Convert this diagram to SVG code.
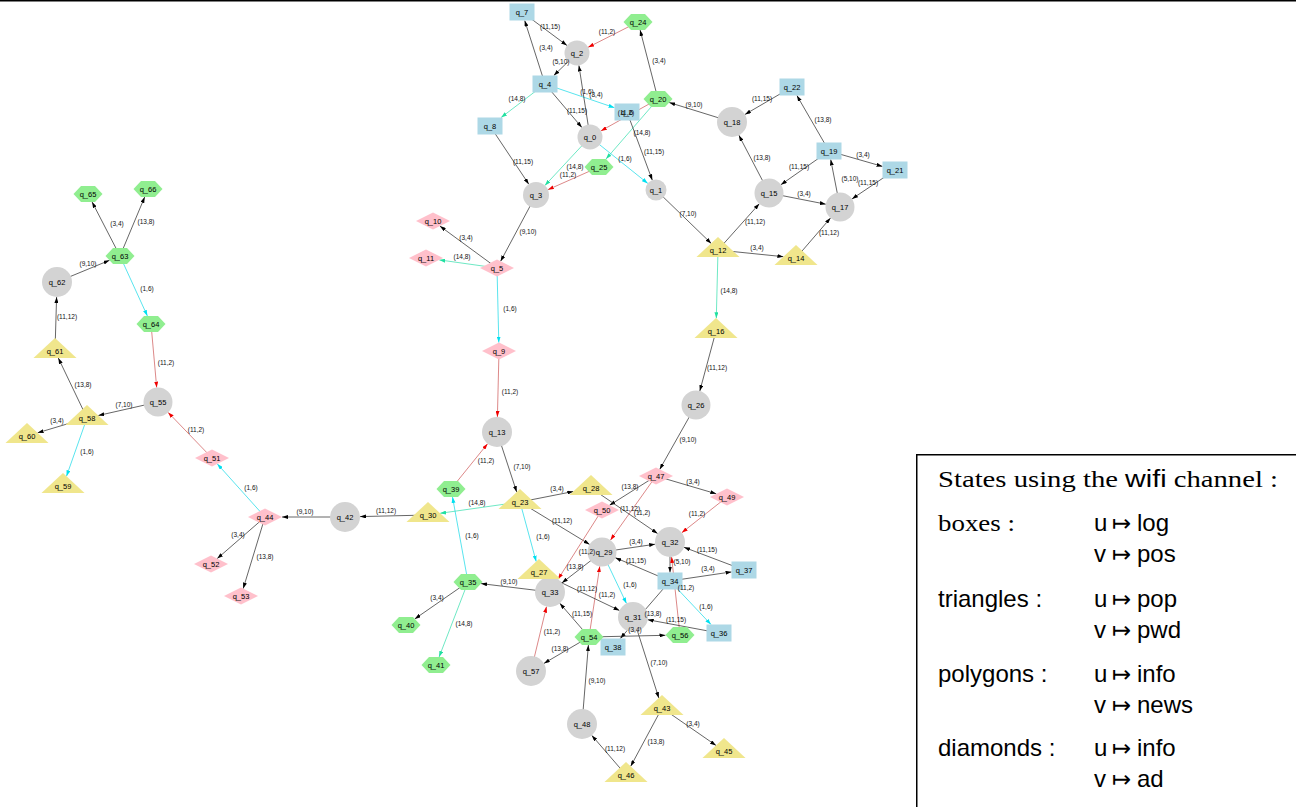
<svg xmlns="http://www.w3.org/2000/svg" width="1296" height="807" viewBox="0 0 1296 807">
<style>
.e{fill:none;stroke-width:0.75}
.k{stroke:#333;marker-end:url(#ak)}
.r{stroke:#d06060;marker-end:url(#ar)}
.c{stroke:#22dbe8;marker-end:url(#ac)}
.g{stroke:#3ee0b0;marker-end:url(#ag)}
.bx{fill:#add8e6}
.ci{fill:#d3d3d3}
.hx{fill:#90ee90}
.tr{fill:#f0e68c}
.dm{fill:#ffc0cb}
.nl{font-family:"Liberation Sans",Arial,sans-serif;font-size:7.5px;text-anchor:middle;fill:#000}
.el{font-family:"Liberation Sans",Arial,sans-serif;font-size:6.5px;text-anchor:middle;fill:#111}
.ls{font-family:"Liberation Serif","Times New Roman",serif;font-size:23px;fill:#000}
.lf{font-family:"Liberation Sans",Arial,sans-serif;font-size:24px;fill:#000}
.mt{font-family:"DejaVu Sans",sans-serif;font-size:23px}
</style>
<defs>
<marker id="ak" viewBox="0 0 6 4" refX="6" refY="2" markerWidth="6" markerHeight="4" markerUnits="userSpaceOnUse" orient="auto"><path d="M0,0L6,2L0,4z" fill="#000"/></marker>
<marker id="ar" viewBox="0 0 6 4" refX="6" refY="2" markerWidth="6" markerHeight="4" markerUnits="userSpaceOnUse" orient="auto"><path d="M0,0L6,2L0,4z" fill="#f00000"/></marker>
<marker id="ac" viewBox="0 0 6 4" refX="6" refY="2" markerWidth="6" markerHeight="4" markerUnits="userSpaceOnUse" orient="auto"><path d="M0,0L6,2L0,4z" fill="#00e0f0"/></marker>
<marker id="ag" viewBox="0 0 6 4" refX="6" refY="2" markerWidth="6" markerHeight="4" markerUnits="userSpaceOnUse" orient="auto"><path d="M0,0L6,2L0,4z" fill="#20e0a0"/></marker>
</defs>
<rect x="0" y="0" width="1296" height="807" fill="#fff"/>
<rect x="0" y="0" width="1296" height="1.5" fill="#000"/>
<g id="connectors">
<line class="e k" x1="522" y1="12" x2="567" y2="45.5"/>
<line class="e r" x1="638" y1="22" x2="588.1" y2="47.3"/>
<line class="e k" x1="545" y1="84" x2="524.7" y2="20.5"/>
<line class="e k" x1="577" y1="53" x2="553.8" y2="75.5"/>
<line class="e k" x1="658" y1="99" x2="640.1" y2="30"/>
<line class="e g" x1="545" y1="84" x2="501.1" y2="117.5"/>
<line class="e c" x1="545" y1="84" x2="614.5" y2="107.7"/>
<line class="e k" x1="590" y1="137" x2="578.9" y2="65.4"/>
<line class="e k" x1="545" y1="84" x2="581.9" y2="127.5"/>
<line class="e k" x1="732" y1="122" x2="669.2" y2="102.5"/>
<line class="e r" x1="658" y1="99" x2="600.9" y2="130.9"/>
<line class="e g" x1="658" y1="99" x2="606" y2="159"/>
<line class="e k" x1="627" y1="112" x2="652.3" y2="180.2"/>
<line class="e k" x1="490" y1="126" x2="528.8" y2="184.2"/>
<line class="e c" x1="590" y1="137" x2="647.8" y2="183.4"/>
<line class="e g" x1="590" y1="137" x2="544.9" y2="185.5"/>
<line class="e r" x1="599" y1="167" x2="547.9" y2="189.7"/>
<line class="e k" x1="536" y1="195" x2="500.6" y2="261.3"/>
<line class="e k" x1="656" y1="190" x2="711.2" y2="243.4"/>
<line class="e k" x1="497" y1="268" x2="439.9" y2="226.1"/>
<line class="e g" x1="497" y1="268" x2="439.3" y2="259.9"/>
<line class="e c" x1="497" y1="268" x2="498.8" y2="342.6"/>
<line class="e r" x1="499" y1="351" x2="497.4" y2="417"/>
<line class="e k" x1="497" y1="432" x2="516.7" y2="492"/>
<line class="e r" x1="451" y1="489" x2="487.6" y2="443.7"/>
<line class="e k" x1="520" y1="502" x2="573.3" y2="491.5"/>
<line class="e g" x1="520" y1="502" x2="440.1" y2="513.3"/>
<line class="e c" x1="520" y1="502" x2="536.2" y2="561.6"/>
<line class="e k" x1="520" y1="502" x2="589.6" y2="544.4"/>
<line class="e k" x1="428" y1="515" x2="360" y2="516.6"/>
<line class="e k" x1="345" y1="517" x2="282" y2="517"/>
<line class="e c" x1="265" y1="517" x2="217.3" y2="463.9"/>
<line class="e r" x1="212" y1="458" x2="168.1" y2="412.4"/>
<line class="e k" x1="265" y1="517" x2="217.2" y2="558.6"/>
<line class="e k" x1="265" y1="517" x2="243.2" y2="588.6"/>
<line class="e r" x1="151" y1="324" x2="156.7" y2="387.6"/>
<line class="e k" x1="158" y1="402" x2="98.3" y2="415.5"/>
<line class="e k" x1="87" y1="418" x2="58.3" y2="358"/>
<line class="e k" x1="87" y1="418" x2="37.6" y2="432.8"/>
<line class="e c" x1="87" y1="418" x2="66.5" y2="476.2"/>
<line class="e k" x1="55" y1="351" x2="56.6" y2="297"/>
<line class="e k" x1="57" y1="282" x2="109.5" y2="260.3"/>
<line class="e k" x1="120" y1="256" x2="92.1" y2="202"/>
<line class="e k" x1="120" y1="256" x2="144.7" y2="197"/>
<line class="e c" x1="120" y1="256" x2="147.4" y2="316"/>
<line class="e k" x1="718" y1="250" x2="759.3" y2="203.8"/>
<line class="e k" x1="718" y1="250" x2="783.4" y2="256.7"/>
<line class="e g" x1="718" y1="250" x2="716.3" y2="318.3"/>
<line class="e k" x1="796" y1="258" x2="830.5" y2="218"/>
<line class="e k" x1="769" y1="193" x2="738.9" y2="135.3"/>
<line class="e k" x1="769" y1="193" x2="825.8" y2="204.2"/>
<line class="e k" x1="829" y1="151" x2="780.9" y2="184.7"/>
<line class="e k" x1="840" y1="207" x2="830.7" y2="159.5"/>
<line class="e k" x1="829" y1="151" x2="796.9" y2="95.5"/>
<line class="e k" x1="829" y1="151" x2="882.5" y2="166.4"/>
<line class="e k" x1="895" y1="170" x2="852" y2="198.9"/>
<line class="e k" x1="792" y1="87" x2="745" y2="114.4"/>
<line class="e k" x1="716" y1="331" x2="699.8" y2="391"/>
<line class="e k" x1="696" y1="405" x2="659.7" y2="469.4"/>
<line class="e k" x1="656" y1="476" x2="716.3" y2="493.8"/>
<line class="e k" x1="656" y1="476" x2="609.5" y2="505.3"/>
<line class="e r" x1="656" y1="476" x2="610.4" y2="540.2"/>
<line class="e k" x1="591" y1="488" x2="657.6" y2="533.5"/>
<line class="e r" x1="727" y1="497" x2="681.8" y2="532.7"/>
<line class="e r" x1="602" y1="510" x2="558" y2="579.3"/>
<line class="e k" x1="602" y1="552" x2="655.2" y2="544.2"/>
<line class="e k" x1="670" y1="542" x2="670" y2="572.5"/>
<line class="e r" x1="680" y1="635" x2="671.6" y2="556.9"/>
<line class="e k" x1="744" y1="570" x2="684" y2="547.3"/>
<line class="e k" x1="670" y1="581" x2="731.5" y2="571.9"/>
<line class="e k" x1="670" y1="581" x2="615.3" y2="557.7"/>
<line class="e c" x1="670" y1="581" x2="711" y2="624.5"/>
<line class="e k" x1="670" y1="581" x2="620.3" y2="638.5"/>
<line class="e k" x1="719" y1="633" x2="647.7" y2="619.7"/>
<line class="e k" x1="633" y1="617" x2="658.8" y2="698"/>
<line class="e k" x1="662" y1="708" x2="716" y2="745.4"/>
<line class="e k" x1="662" y1="708" x2="630.7" y2="766.3"/>
<line class="e k" x1="626" y1="775" x2="591.8" y2="735.4"/>
<line class="e k" x1="582" y1="724" x2="588.4" y2="645"/>
<line class="e k" x1="589" y1="637" x2="543.9" y2="663.4"/>
<line class="e r" x1="531" y1="671" x2="546.5" y2="606.6"/>
<line class="e k" x1="589" y1="637" x2="559.8" y2="603.3"/>
<line class="e r" x1="589" y1="637" x2="599.8" y2="566.3"/>
<line class="e k" x1="539" y1="572" x2="619.5" y2="610.5"/>
<line class="e c" x1="602" y1="552" x2="626.5" y2="603.5"/>
<line class="e k" x1="602" y1="552" x2="561.9" y2="582.9"/>
<line class="e k" x1="550" y1="592" x2="481" y2="583.6"/>
<line class="e c" x1="468" y1="582" x2="452.5" y2="497"/>
<line class="e k" x1="468" y1="582" x2="414.8" y2="618.9"/>
<line class="e g" x1="468" y1="582" x2="439.1" y2="657"/>
<line class="e k" x1="589" y1="637" x2="665.5" y2="635.3"/>
</g>
<g id="nodes">
<g id="q_7"><rect class="bx" x="509.5" y="3.5" width="25" height="17"/><text class="nl" x="522" y="14.7">q_7</text></g>
<g id="q_4"><rect class="bx" x="532.5" y="75.5" width="25" height="17"/><text class="nl" x="545" y="86.7">q_4</text></g>
<g id="q_8"><rect class="bx" x="477.5" y="117.5" width="25" height="17"/><text class="nl" x="490" y="128.7">q_8</text></g>
<g id="q_6"><rect class="bx" x="614.5" y="103.5" width="25" height="17"/><text class="nl" x="627" y="114.7">q_6</text></g>
<g id="q_22"><rect class="bx" x="779.5" y="78.5" width="25" height="17"/><text class="nl" x="792" y="89.7">q_22</text></g>
<g id="q_19"><rect class="bx" x="816.5" y="142.5" width="25" height="17"/><text class="nl" x="829" y="153.7">q_19</text></g>
<g id="q_21"><rect class="bx" x="882.5" y="161.5" width="25" height="17"/><text class="nl" x="895" y="172.7">q_21</text></g>
<g id="q_37"><rect class="bx" x="731.5" y="561.5" width="25" height="17"/><text class="nl" x="744" y="572.7">q_37</text></g>
<g id="q_34"><rect class="bx" x="657.5" y="572.5" width="25" height="17"/><text class="nl" x="670" y="583.7">q_34</text></g>
<g id="q_36"><rect class="bx" x="706.5" y="624.5" width="25" height="17"/><text class="nl" x="719" y="635.7">q_36</text></g>
<g id="q_38"><rect class="bx" x="600.5" y="638.5" width="25" height="17"/><text class="nl" x="613" y="649.7">q_38</text></g>
<g id="q_2"><circle class="ci" cx="577" cy="53" r="12.5"/><text class="nl" x="577" y="55.7">q_2</text></g>
<g id="q_0"><circle class="ci" cx="590" cy="137" r="12.5"/><text class="nl" x="590" y="139.7">q_0</text></g>
<g id="q_3"><circle class="ci" cx="536" cy="195" r="13"/><text class="nl" x="536" y="197.7">q_3</text></g>
<g id="q_1"><circle class="ci" cx="656" cy="190" r="10.5"/><text class="nl" x="656" y="192.7">q_1</text></g>
<g id="q_18"><circle class="ci" cx="732" cy="122" r="15"/><text class="nl" x="732" y="124.7">q_18</text></g>
<g id="q_15"><circle class="ci" cx="769" cy="193" r="14.5"/><text class="nl" x="769" y="195.7">q_15</text></g>
<g id="q_17"><circle class="ci" cx="840" cy="207" r="14.5"/><text class="nl" x="840" y="209.7">q_17</text></g>
<g id="q_62"><circle class="ci" cx="57" cy="282" r="15"/><text class="nl" x="57" y="284.7">q_62</text></g>
<g id="q_55"><circle class="ci" cx="158" cy="402" r="14.5"/><text class="nl" x="158" y="404.7">q_55</text></g>
<g id="q_13"><circle class="ci" cx="497" cy="432" r="15"/><text class="nl" x="497" y="434.7">q_13</text></g>
<g id="q_26"><circle class="ci" cx="696" cy="405" r="14.5"/><text class="nl" x="696" y="407.7">q_26</text></g>
<g id="q_42"><circle class="ci" cx="345" cy="517" r="15"/><text class="nl" x="345" y="519.7">q_42</text></g>
<g id="q_29"><circle class="ci" cx="602" cy="552" r="14.5"/><text class="nl" x="604" y="554.7">q_29</text></g>
<g id="q_32"><circle class="ci" cx="670" cy="542" r="15"/><text class="nl" x="670" y="544.7">q_32</text></g>
<g id="q_33"><circle class="ci" cx="550" cy="592" r="15"/><text class="nl" x="550" y="594.7">q_33</text></g>
<g id="q_31"><circle class="ci" cx="633" cy="617" r="15"/><text class="nl" x="633" y="619.7">q_31</text></g>
<g id="q_57"><circle class="ci" cx="531" cy="671" r="15"/><text class="nl" x="531" y="673.7">q_57</text></g>
<g id="q_48"><circle class="ci" cx="582" cy="724" r="15"/><text class="nl" x="582" y="726.7">q_48</text></g>
<g id="q_24"><polygon class="hx" points="623.5,22 631,14 645,14 652.5,22 645,30 631,30"/><text class="nl" x="638" y="24.7">q_24</text></g>
<g id="q_20"><polygon class="hx" points="643.5,99 651,91 665,91 672.5,99 665,107 651,107"/><text class="nl" x="658" y="101.7">q_20</text></g>
<g id="q_25"><polygon class="hx" points="584.5,167 592,159 606,159 613.5,167 606,175 592,175"/><text class="nl" x="599" y="169.7">q_25</text></g>
<g id="q_63"><polygon class="hx" points="105.5,256 113,248 127,248 134.5,256 127,264 113,264"/><text class="nl" x="120" y="258.7">q_63</text></g>
<g id="q_65"><polygon class="hx" points="73.5,194 81,186 95,186 102.5,194 95,202 81,202"/><text class="nl" x="88" y="196.7">q_65</text></g>
<g id="q_66"><polygon class="hx" points="133.5,189 141,181 155,181 162.5,189 155,197 141,197"/><text class="nl" x="148" y="191.7">q_66</text></g>
<g id="q_64"><polygon class="hx" points="136.5,324 144,316 158,316 165.5,324 158,332 144,332"/><text class="nl" x="151" y="326.7">q_64</text></g>
<g id="q_39"><polygon class="hx" points="436.5,489 444,481 458,481 465.5,489 458,497 444,497"/><text class="nl" x="451" y="491.7">q_39</text></g>
<g id="q_35"><polygon class="hx" points="453.5,582 461,574 475,574 482.5,582 475,590 461,590"/><text class="nl" x="468" y="584.7">q_35</text></g>
<g id="q_40"><polygon class="hx" points="391.5,625 399,617 413,617 420.5,625 413,633 399,633"/><text class="nl" x="406" y="627.7">q_40</text></g>
<g id="q_41"><polygon class="hx" points="421.5,665 429,657 443,657 450.5,665 443,673 429,673"/><text class="nl" x="436" y="667.7">q_41</text></g>
<g id="q_54"><polygon class="hx" points="574.5,637 582,629 596,629 603.5,637 596,645 582,645"/><text class="nl" x="589" y="639.7">q_54</text></g>
<g id="q_56"><polygon class="hx" points="665.5,635 673,627 687,627 694.5,635 687,643 673,643"/><text class="nl" x="680" y="637.7">q_56</text></g>
<g id="q_12"><polygon class="tr" points="718,237 739.5,257 696.5,257"/><text class="nl" x="718" y="252.7">q_12</text></g>
<g id="q_14"><polygon class="tr" points="796,245 817.5,265 774.5,265"/><text class="nl" x="796" y="260.7">q_14</text></g>
<g id="q_16"><polygon class="tr" points="716,318 737.5,338 694.5,338"/><text class="nl" x="716" y="333.7">q_16</text></g>
<g id="q_61"><polygon class="tr" points="55,338 76.5,358 33.5,358"/><text class="nl" x="55" y="353.7">q_61</text></g>
<g id="q_58"><polygon class="tr" points="87,405 108.5,425 65.5,425"/><text class="nl" x="87" y="420.7">q_58</text></g>
<g id="q_60"><polygon class="tr" points="27,423 48.5,443 5.5,443"/><text class="nl" x="27" y="438.7">q_60</text></g>
<g id="q_59"><polygon class="tr" points="63,473 84.5,493 41.5,493"/><text class="nl" x="63" y="488.7">q_59</text></g>
<g id="q_30"><polygon class="tr" points="428,502 449.5,522 406.5,522"/><text class="nl" x="428" y="517.7">q_30</text></g>
<g id="q_23"><polygon class="tr" points="520,489 541.5,509 498.5,509"/><text class="nl" x="520" y="504.7">q_23</text></g>
<g id="q_28"><polygon class="tr" points="591,475 612.5,495 569.5,495"/><text class="nl" x="591" y="490.7">q_28</text></g>
<g id="q_27"><polygon class="tr" points="539,559 560.5,579 517.5,579"/><text class="nl" x="539" y="574.7">q_27</text></g>
<g id="q_43"><polygon class="tr" points="662,695 683.5,715 640.5,715"/><text class="nl" x="662" y="710.7">q_43</text></g>
<g id="q_45"><polygon class="tr" points="724,738 745.5,758 702.5,758"/><text class="nl" x="724" y="753.7">q_45</text></g>
<g id="q_46"><polygon class="tr" points="626,762 647.5,782 604.5,782"/><text class="nl" x="626" y="777.7">q_46</text></g>
<g id="q_10"><polygon class="dm" points="416,221 433,212.5 450,221 433,229.5"/><text class="nl" x="433" y="223.7">q_10</text></g>
<g id="q_11"><polygon class="dm" points="409,258 426,249.5 443,258 426,266.5"/><text class="nl" x="426" y="260.7">q_11</text></g>
<g id="q_5"><polygon class="dm" points="480,268 497,259.5 514,268 497,276.5"/><text class="nl" x="497" y="270.7">q_5</text></g>
<g id="q_9"><polygon class="dm" points="482,351 499,342.5 516,351 499,359.5"/><text class="nl" x="499" y="353.7">q_9</text></g>
<g id="q_47"><polygon class="dm" points="639,476 656,467.5 673,476 656,484.5"/><text class="nl" x="656" y="478.7">q_47</text></g>
<g id="q_49"><polygon class="dm" points="710,497 727,488.5 744,497 727,505.5"/><text class="nl" x="727" y="499.7">q_49</text></g>
<g id="q_50"><polygon class="dm" points="585,510 602,501.5 619,510 602,518.5"/><text class="nl" x="602" y="512.7">q_50</text></g>
<g id="q_51"><polygon class="dm" points="195,458 212,449.5 229,458 212,466.5"/><text class="nl" x="212" y="460.7">q_51</text></g>
<g id="q_44"><polygon class="dm" points="248,517 265,508.5 282,517 265,525.5"/><text class="nl" x="265" y="519.7">q_44</text></g>
<g id="q_52"><polygon class="dm" points="194,564 211,555.5 228,564 211,572.5"/><text class="nl" x="211" y="566.7">q_52</text></g>
<g id="q_53"><polygon class="dm" points="224,596 241,587.5 258,596 241,604.5"/><text class="nl" x="241" y="598.7">q_53</text></g>
</g>
<g id="edge-labels">
<text class="el" x="550" y="29.3">(11,15)</text>
<text class="el" x="607" y="34.3">(11,2)</text>
<text class="el" x="546" y="50.3">(3,4)</text>
<text class="el" x="561" y="64.3">(5,10)</text>
<text class="el" x="659" y="63.3">(3,4)</text>
<text class="el" x="517" y="101.3">(14,8)</text>
<text class="el" x="587" y="94.3">(1,6)</text>
<text class="el" x="596" y="97.3">(3,4)</text>
<text class="el" x="577" y="113.3">(11,15)</text>
<text class="el" x="694" y="107.3">(9,10)</text>
<text class="el" x="626" y="115.3">(11,2)</text>
<text class="el" x="642" y="135.3">(14,8)</text>
<text class="el" x="654" y="154.3">(11,15)</text>
<text class="el" x="523" y="164.3">(11,15)</text>
<text class="el" x="625" y="161.3">(1,6)</text>
<text class="el" x="575" y="169.3">(14,8)</text>
<text class="el" x="568" y="177.3">(11,2)</text>
<text class="el" x="528" y="234.3">(9,10)</text>
<text class="el" x="688" y="216.3">(7,10)</text>
<text class="el" x="466" y="240.3">(3,4)</text>
<text class="el" x="462" y="259.3">(14,8)</text>
<text class="el" x="510" y="311.3">(1,6)</text>
<text class="el" x="510" y="394.3">(11,2)</text>
<text class="el" x="522" y="469.3">(7,10)</text>
<text class="el" x="486" y="463.3">(11,2)</text>
<text class="el" x="557" y="491.3">(3,4)</text>
<text class="el" x="477" y="505.3">(14,8)</text>
<text class="el" x="543" y="539.3">(1,6)</text>
<text class="el" x="562" y="523.3">(11,12)</text>
<text class="el" x="386" y="513.3">(11,12)</text>
<text class="el" x="305" y="514.3">(9,10)</text>
<text class="el" x="251" y="490.3">(1,6)</text>
<text class="el" x="196" y="432.3">(11,2)</text>
<text class="el" x="238" y="537.3">(3,4)</text>
<text class="el" x="265" y="559.3">(13,8)</text>
<text class="el" x="166" y="365.3">(11,2)</text>
<text class="el" x="124" y="407.3">(7,10)</text>
<text class="el" x="83" y="387.3">(13,8)</text>
<text class="el" x="57" y="423.3">(3,4)</text>
<text class="el" x="87" y="454.3">(1,6)</text>
<text class="el" x="67" y="319.3">(11,12)</text>
<text class="el" x="88" y="266.3">(9,10)</text>
<text class="el" x="117" y="226.3">(3,4)</text>
<text class="el" x="146" y="224.3">(13,8)</text>
<text class="el" x="147" y="291.3">(1,6)</text>
<text class="el" x="755" y="224.3">(11,12)</text>
<text class="el" x="757" y="250.3">(3,4)</text>
<text class="el" x="729" y="293.3">(14,8)</text>
<text class="el" x="829" y="235.3">(11,12)</text>
<text class="el" x="762" y="160.3">(13,8)</text>
<text class="el" x="804" y="196.3">(3,4)</text>
<text class="el" x="799" y="169.3">(11,15)</text>
<text class="el" x="850" y="181.3">(5,10)</text>
<text class="el" x="823" y="122.3">(13,8)</text>
<text class="el" x="863" y="157.3">(3,4)</text>
<text class="el" x="868" y="185.3">(11,15)</text>
<text class="el" x="762" y="101.3">(11,15)</text>
<text class="el" x="717" y="370.3">(11,12)</text>
<text class="el" x="688" y="442.3">(9,10)</text>
<text class="el" x="693" y="484.3">(3,4)</text>
<text class="el" x="630" y="489.3">(13,8)</text>
<text class="el" x="642" y="515.3">(11,2)</text>
<text class="el" x="630" y="511.3">(11,12)</text>
<text class="el" x="697" y="516.3">(11,2)</text>
<text class="el" x="587" y="554.3">(11,2)</text>
<text class="el" x="636" y="544.3">(3,4)</text>
<text class="el" x="682" y="564.3">(5,10)</text>
<text class="el" x="686" y="590.3">(11,2)</text>
<text class="el" x="707" y="552.3">(11,15)</text>
<text class="el" x="708" y="571.3">(3,4)</text>
<text class="el" x="636" y="563.3">(11,15)</text>
<text class="el" x="706" y="609.3">(1,6)</text>
<text class="el" x="653" y="616.3">(13,8)</text>
<text class="el" x="676" y="622.3">(11,15)</text>
<text class="el" x="659" y="665.3">(7,10)</text>
<text class="el" x="693" y="726.3">(3,4)</text>
<text class="el" x="656" y="744.3">(13,8)</text>
<text class="el" x="615" y="751.3">(11,12)</text>
<text class="el" x="597" y="683.3">(9,10)</text>
<text class="el" x="560" y="651.3">(13,8)</text>
<text class="el" x="552" y="634.3">(11,2)</text>
<text class="el" x="582" y="616.3">(11,15)</text>
<text class="el" x="607" y="597.3">(11,2)</text>
<text class="el" x="587" y="591.3">(11,12)</text>
<text class="el" x="630" y="587.3">(1,6)</text>
<text class="el" x="575" y="569.3">(13,8)</text>
<text class="el" x="509" y="584.3">(9,10)</text>
<text class="el" x="472" y="538.3">(1,6)</text>
<text class="el" x="437" y="600.3">(3,4)</text>
<text class="el" x="464" y="626.3">(14,8)</text>
<text class="el" x="635" y="632.3">(3,4)</text>
</g>
<g id="legend">
<rect x="916.75" y="454.75" width="400" height="400" fill="#fff" stroke="#000" stroke-width="1.5"/>
<text class="ls" x="938" y="487" textLength="340" lengthAdjust="spacingAndGlyphs">States using the <tspan class="lf" style="font-size:23px">wifi</tspan> channel :</text>
<text class="ls" x="938" y="531" textLength="77" lengthAdjust="spacingAndGlyphs">boxes :</text>
<text class="lf" y="531"><tspan x="1094">u</tspan><tspan class="mt" x="1112">↦</tspan><tspan x="1137">log</tspan></text>
<text class="lf" y="562"><tspan x="1094">v</tspan><tspan class="mt" x="1112">↦</tspan><tspan x="1137">pos</tspan></text>
<text class="lf" x="938" y="607">triangles :</text>
<text class="lf" y="607"><tspan x="1094">u</tspan><tspan class="mt" x="1112">↦</tspan><tspan x="1137">pop</tspan></text>
<text class="lf" y="638"><tspan x="1094">v</tspan><tspan class="mt" x="1112">↦</tspan><tspan x="1137">pwd</tspan></text>
<text class="lf" x="938" y="682">polygons :</text>
<text class="lf" y="682"><tspan x="1094">u</tspan><tspan class="mt" x="1112">↦</tspan><tspan x="1137">info</tspan></text>
<text class="lf" y="713"><tspan x="1094">v</tspan><tspan class="mt" x="1112">↦</tspan><tspan x="1137">news</tspan></text>
<text class="lf" x="938" y="756">diamonds :</text>
<text class="lf" y="756"><tspan x="1094">u</tspan><tspan class="mt" x="1112">↦</tspan><tspan x="1137">info</tspan></text>
<text class="lf" y="787"><tspan x="1094">v</tspan><tspan class="mt" x="1112">↦</tspan><tspan x="1137">ad</tspan></text>
</g>
</svg>
